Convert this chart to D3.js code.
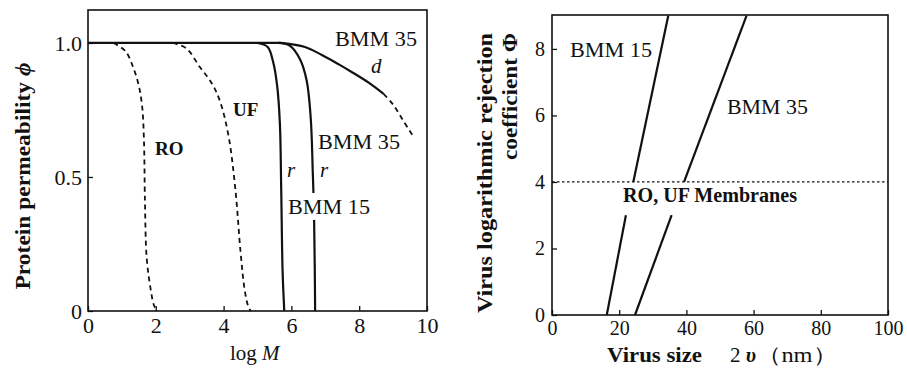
<!DOCTYPE html>
<html>
<head>
<meta charset="utf-8">
<script src="https://cdn.jsdelivr.net/npm/d3@7"></script>
<style>
  body { margin: 0; background: #fff; }
  svg { display: block; font-family: "Liberation Serif", "DejaVu Serif", serif; }
  .tick line { stroke: #111; stroke-width: 1.3; }
</style>
</head>
<body>
<svg id="chart" width="907" height="375"></svg>
<script>
// ---- left panel: protein permeability vs log M ----
const leftXTicks = [0, 2, 4, 6, 8, 10];
const leftYTicks = [0, 0.5, 1.0];
const plateau = [[0, 1.0], [5.7, 1.0]];
const roCurve = [[0.75, 1.0], [1.1, 0.97], [1.33, 0.91], [1.5, 0.84], [1.6, 0.76], [1.65, 0.64], [1.68, 0.41], [1.73, 0.2], [1.85, 0.08], [1.95, 0.02], [2.05, 0]];
const ufCurve = [[2.5, 1.0], [2.9, 0.98], [3.3, 0.91], [3.65, 0.85], [3.9, 0.78], [4.15, 0.65], [4.35, 0.45], [4.5, 0.22], [4.62, 0.08], [4.72, 0.02], [4.8, 0]];
const bmm15r = [[5.0, 1.0], [5.3, 0.985], [5.46, 0.93], [5.58, 0.84], [5.66, 0.7], [5.7, 0.45], [5.74, 0.15], [5.79, 0]];
const bmm35rTop = [[5.6, 1.0], [5.95, 0.99], [6.25, 0.94], [6.45, 0.86], [6.57, 0.72], [6.63, 0.52], [6.65, 0.44]];
const bmm35rBottom = [[6.67, 0.34], [6.69, 0.15], [6.7, 0]];
const bmm35dSolid = [[5.7, 1.0], [6.4, 0.985], [6.9, 0.955], [7.4, 0.92], [7.8, 0.89], [8.3, 0.85], [8.72, 0.81]];
const bmm35dDashed = [[8.72, 0.81], [9.0, 0.77], [9.3, 0.71], [9.6, 0.65]];

// ---- right panel: virus rejection vs virus size ----
const rightXTicks = [0, 20, 40, 60, 80, 100];
const rightYTicks = [0, 2, 4, 6, 8];
const bmm15Low = [[16.3, 0], [22.0, 3.0]];
const bmm15High = [[24.2, 4.0], [34.6, 9.0]];
const bmm35Low = [[24.7, 0], [35.6, 3.0]];
const bmm35High = [[39.3, 4.0], [57.9, 9.0]];
const roUfLevel = 4;

const svg = d3.select("#chart");
const SERIF = '"Liberation Serif", "DejaVu Serif", serif';

function frame(g, x, y) {
  const [x0, x1] = x.range();
  const [y0, y1] = y.range();
  g.append("rect")
    .attr("x", x0).attr("y", y1)
    .attr("width", x1 - x0).attr("height", y0 - y1)
    .attr("fill", "none").attr("stroke", "#111").attr("stroke-width", 1.6);
}

function axes(g, x, y, xTicks, yTicks, yFmt, yPad, fontSize) {
  const [y0] = y.range();
  const [x0] = x.range();
  const style = a => {
    a.attr("font-family", SERIF).attr("font-size", fontSize);
    a.select(".domain").remove();
    a.selectAll("text").attr("fill", "#111");
  };
  g.append("g")
    .attr("transform", `translate(0,${y0})`)
    .call(d3.axisBottom(x).tickValues(xTicks).tickSize(-5).tickPadding(6).tickFormat(d3.format("d")))
    .call(style);
  g.append("g")
    .attr("transform", `translate(${x0},0)`)
    .call(d3.axisLeft(y).tickValues(yTicks).tickSize(-5).tickPadding(yPad).tickFormat(yFmt))
    .call(style);
}

function label(g, x, y, txt, opts = {}) {
  const t = g.append("text")
    .attr("x", x).attr("y", y)
    .attr("font-size", opts.size || 21)
    .attr("font-weight", opts.bold ? "bold" : null)
    .attr("font-style", opts.italic ? "italic" : null)
    .attr("text-anchor", opts.anchor || "start")
    .attr("fill", "#111");
  if (opts.len) t.attr("textLength", opts.len).attr("lengthAdjust", "spacingAndGlyphs");
  if (opts.rotate) t.attr("transform", `rotate(-90,${x},${y})`);
  t.text(txt);
  return t;
}

// left panel
{
  const x = d3.scaleLinear().domain([0, 10]).range([88, 427]);
  const y = d3.scaleLinear().domain([0, 1.123]).range([311, 10]);
  const g = svg.append("g");
  const line = d3.line().x(d => x(d[0])).y(d => y(d[1])).curve(d3.curveCatmullRom.alpha(0.5));

  axes(g, x, y, leftXTicks, leftYTicks, d => d === 0 ? "0" : d3.format(".1f")(d), 6, 22);
  frame(g, x, y);

  const solid = [plateau, bmm15r, bmm35rTop, bmm35rBottom, bmm35dSolid];
  const dashed = [roCurve, ufCurve, bmm35dDashed];
  g.selectAll("path.solid").data(solid).join("path")
    .attr("class", "solid")
    .attr("d", line)
    .attr("fill", "none").attr("stroke", "#111").attr("stroke-width", 2.2);
  g.selectAll("path.dashed").data(dashed).join("path")
    .attr("class", "dashed")
    .attr("d", line)
    .attr("fill", "none").attr("stroke", "#111").attr("stroke-width", 1.8)
    .attr("stroke-dasharray", "5,4");

  label(g, 335, 46, "BMM 35", {len: 82});
  label(g, 371, 73, "d", {italic: true});
  label(g, 233, 116, "UF", {bold: true, size: 19});
  label(g, 155, 155, "RO", {bold: true, size: 19});
  label(g, 318, 149, "BMM 35", {len: 82});
  label(g, 287, 177, "r", {italic: true});
  label(g, 320, 177, "r", {italic: true});
  label(g, 288, 214, "BMM 15", {len: 82});

  const xl = label(g, 230, 360, "log ", {size: 21});
  xl.append("tspan").attr("font-style", "italic").text("M");
  const yl = label(g, 30, 176, "Protein permeability ", {bold: true, size: 21, anchor: "middle", rotate: true, len: 227});
  yl.append("tspan").attr("font-style", "italic").text("ϕ");
}

// right panel
{
  const x = d3.scaleLinear().domain([0, 100]).range([552, 888]);
  const y = d3.scaleLinear().domain([0, 9.02]).range([315, 15]);
  const g = svg.append("g");
  const line = d3.line().x(d => x(d[0])).y(d => y(d[1]));

  axes(g, x, y, rightXTicks, rightYTicks, d3.format("d"), 7, 20);
  frame(g, x, y);

  g.append("line")
    .attr("x1", x(0)).attr("x2", x(100))
    .attr("y1", y(roUfLevel)).attr("y2", y(roUfLevel))
    .attr("stroke", "#111").attr("stroke-width", 1.3).attr("stroke-dasharray", "2.5,2.5");

  g.selectAll("path.vl").data([bmm15Low, bmm15High, bmm35Low, bmm35High]).join("path")
    .attr("class", "vl")
    .attr("d", line)
    .attr("fill", "none").attr("stroke", "#111").attr("stroke-width", 2.2);

  label(g, 570, 57, "BMM 15", {len: 82});
  label(g, 727, 114, "BMM 35", {len: 81});
  label(g, 623, 202, "RO, UF Membranes", {bold: true, size: 20, len: 174});

  label(g, 492, 33, "Virus logarithmic rejection", {bold: true, size: 21, anchor: "end", rotate: true, len: 280});
  const c = label(g, 517, 33, "coefficient ", {bold: true, size: 21, anchor: "end", rotate: true, len: 127});
  c.append("tspan").text("Φ");

  label(g, 607, 362, "Virus size", {bold: true, size: 21, len: 95});
  const u = label(g, 730, 362, "2 ", {size: 21});
  u.append("tspan").attr("font-style", "italic").attr("font-weight", "bold").text("υ");
  label(g, 757, 362, "（nm）", {size: 21, len: 80});
}
</script>
</body>
</html>
